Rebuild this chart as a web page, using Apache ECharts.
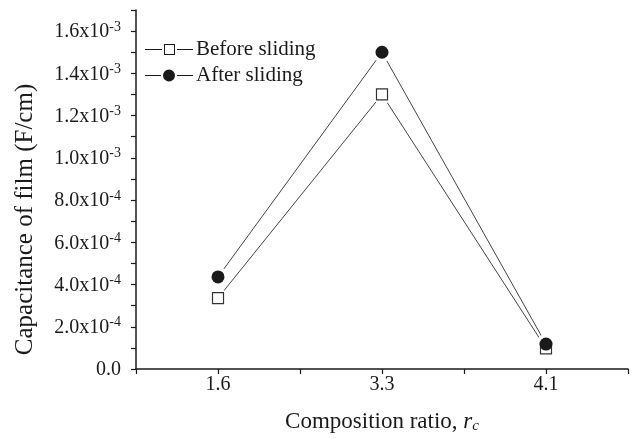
<!DOCTYPE html>
<html>
<head>
<meta charset="utf-8">
<script src="https://cdn.jsdelivr.net/npm/echarts@6/dist/echarts.min.js"></script>
<style>html,body{margin:0;padding:0;background:#fff}#c{width:637px;height:439px}</style>
</head>
<body>
<div id="c"></div>
<script>
const categories = ['1.6', '3.3', '4.1'];
const beforeSliding = [3.36e-4, 1.30e-3, 0.98e-4];
const afterSliding = [4.36e-4, 1.50e-3, 1.18e-4];
const yMin = 0, yMax = 1.7e-3, yStep = 1e-4;

const FONT = '"Liberation Serif", "Times New Roman", serif';
const INK = '#1a1a1a';
const LINE = '#444';

function yLabel(v) {
  const k = Math.round(v / 1e-4);
  if (k % 2 !== 0) return '';
  if (k === 0) return '{m|0.0}';
  let mant, exp;
  if (k >= 10) { mant = (k / 10).toFixed(1); exp = '-3'; }
  else { mant = k.toFixed(1); exp = '-4'; }
  return '{m|' + mant + 'x10}{s|' + exp + '}';
}

const beforeIcon = 'path://M0 5H17V6H0Z M19 0H30V11H19Z M20 1V10H29V1Z M32 5H48V6H32Z';
const afterIcon = 'path://M0 5.5H16V6.5H0Z M18 6A6 6 0 1 1 30 6A6 6 0 1 1 18 6Z M32 5.5H48V6.5H32Z';

const chart = echarts.init(document.getElementById('c'), null, {renderer: 'canvas'});
chart.setOption({
  animation: false,
  backgroundColor: '#fff',
  textStyle: {fontFamily: FONT, color: INK},
  grid: {left: 136, right: 9, top: 10, bottom: 70, containLabel: false},
  legend: {
    orient: 'vertical',
    left: 140, top: 34,
    itemWidth: 48, itemHeight: 12, itemGap: 5,
    textStyle: {fontFamily: FONT, fontSize: 21, color: INK, padding: [0,0,0,-2]},
    data: [
      {name: 'Before sliding', icon: beforeIcon, itemStyle: {color: INK, borderWidth: 0}},
      {name: 'After sliding', icon: afterIcon, itemStyle: {color: INK, borderWidth: 0}}
    ],
    selectedMode: false
  },
  xAxis: [{
    type: 'category',
    data: categories,
    boundaryGap: true,
    axisLine: {lineStyle: {color: INK, width: 1.5}},
    axisTick: {show: true, alignWithLabel: true, inside: false, length: 5, lineStyle: {color: INK, width: 1.2}},
    axisLabel: {fontFamily: FONT, fontSize: 20, color: INK, margin: 6},
    splitLine: {show: false},
    name: '{n|Composition ratio, }{i|r}{sub|c}',
    nameLocation: 'middle',
    nameGap: 40,
    nameTextStyle: {
      rich: {
        n: {fontFamily: FONT, fontSize: 23, color: INK},
        i: {fontFamily: FONT, fontSize: 23, fontStyle: 'italic', color: INK},
        sub: {fontFamily: FONT, fontSize: 15, fontStyle: 'italic', color: INK, verticalAlign: 'bottom', padding: [10, 0, 0, 0]}
      }
    }
  }, {
    type: 'category',
    data: categories,
    boundaryGap: true,
    position: 'bottom',
    axisLine: {show: false},
    axisTick: {show: true, inside: false, length: 5, lineStyle: {color: INK, width: 1.2}},
    axisLabel: {show: false},
    splitLine: {show: false}
  }],
  yAxis: {
    type: 'value',
    min: yMin, max: yMax, interval: yStep,
    axisLine: {show: true, lineStyle: {color: INK, width: 1.5}},
    axisTick: {show: true, inside: false, length: 5, lineStyle: {color: INK, width: 1.2}},
    splitLine: {show: false},
    axisLabel: {
      formatter: yLabel,
      margin: 15,
      rich: {
        m: {fontFamily: FONT, fontSize: 20, color: INK, lineHeight: 22, verticalAlign: 'bottom'},
        s: {fontFamily: FONT, fontSize: 14, color: INK, verticalAlign: 'top', lineHeight: 22, padding: [0, 0, 7, 0]}
      }
    },
    name: 'Capacitance of film (F/cm)',
    nameLocation: 'middle',
    nameGap: 98,
    nameTextStyle: {fontFamily: FONT, fontSize: 25, color: INK, padding: [0, 60, 0, 0]}
  },
  series: [
    {name: 'Before sliding', type: 'line', data: beforeSliding, symbol: 'none', z: 2,
      lineStyle: {color: LINE, width: 1}, itemStyle: {color: INK}},
    {name: 'After sliding', type: 'line', data: afterSliding, symbol: 'none', z: 2,
      lineStyle: {color: LINE, width: 1}, itemStyle: {color: INK}},
    {name: 'mask1', type: 'scatter', data: beforeSliding, symbol: 'circle', symbolSize: 20, zlevel: 1, z: 1, silent: true,
      itemStyle: {color: '#fff', opacity: 1}},
    {name: 'mask2', type: 'scatter', data: afterSliding, symbol: 'circle', symbolSize: 20, zlevel: 1, z: 1, silent: true,
      itemStyle: {color: '#fff', opacity: 1}},
    {name: 'mk1', type: 'scatter', data: beforeSliding, symbol: 'rect', symbolSize: 11, zlevel: 1, z: 4,
      itemStyle: {color: '#fff', borderColor: '#333', borderWidth: 1.2, opacity: 1}},
    {name: 'mk2', type: 'scatter', data: afterSliding, symbol: 'circle', symbolSize: 13, zlevel: 1, z: 5,
      itemStyle: {color: INK, opacity: 1}}
  ]
});
</script>
</body>
</html>
